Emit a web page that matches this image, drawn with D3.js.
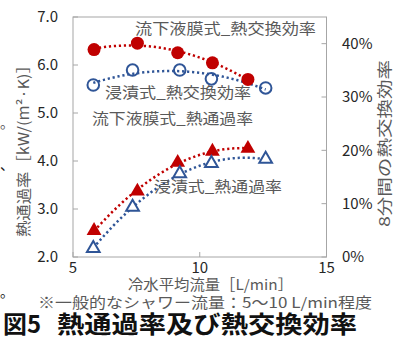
<!DOCTYPE html>
<html><head><meta charset="utf-8">
<script src="https://cdn.jsdelivr.net/npm/d3@7"></script>
<style>
html,body{margin:0;padding:0;background:#fff;}
svg{display:block;font-family:"Noto Sans CJK JP","Noto Sans",sans-serif;}
</style></head>
<body><svg id="c" width="393" height="338"></svg>
<script>
// Data
const redX = [5.83, 7.54, 9.13, 10.5, 11.9];
const blueX = [5.8, 7.35, 9.21, 10.46, 12.6];
const redEff = [0.389, 0.401, 0.383, 0.364, 0.333];     // 流下液膜式_熱交換効率 (right axis)
const blueEff = [0.3225, 0.3505, 0.3505, 0.334, 0.317]; // 浸漬式_熱交換効率 (right axis)
const redK = [2.55, 3.37, 3.97, 4.2, 4.26];            // 流下液膜式_熱通過率 (left axis)
const blueK = [2.18, 3.04, 3.74, 3.95, 4.04];           // 浸漬式_熱通過率 (left axis)
const xTicks = [5, 10, 15];
const yLeftTicks = [2.0, 3.0, 4.0, 5.0, 6.0, 7.0];
const yRightTicks = [0, 0.1, 0.2, 0.3, 0.4];

const svg = d3.select("#c");
const L = 73, R = 326.5, T = 17, B = 257;
const x = d3.scaleLinear().domain([5, 15]).range([L, R]);
const yL = d3.scaleLinear().domain([2, 7]).range([B, T]);
const yR = d3.scaleLinear().domain([0, 0.45]).range([B, T]);

const RED = "#C00000", BLUE = "#2F5597", GRAY = "#595959", AX = "#a6a6a6";

// plot frame
svg.append("rect").attr("x", L).attr("y", T).attr("width", R - L).attr("height", B - T)
  .attr("fill", "none").attr("stroke", AX).attr("stroke-width", 1);

// ticks (inward)
yLeftTicks.forEach(v => svg.append("line").attr("x1", L).attr("x2", L + 5).attr("y1", yL(v)).attr("y2", yL(v)).attr("stroke", AX));
yRightTicks.forEach(v => svg.append("line").attr("x1", R - 5).attr("x2", R).attr("y1", yR(v)).attr("y2", yR(v)).attr("stroke", AX));
xTicks.forEach(v => svg.append("line").attr("x1", x(v)).attr("x2", x(v)).attr("y1", B - 5).attr("y2", B).attr("stroke", AX));

// tick labels
const tf = 15;
yLeftTicks.forEach(v => svg.append("text").attr("x", 58).attr("y", yL(v)).attr("dy", "0.35em")
  .attr("text-anchor", "end").attr("font-size", tf).attr("fill", "#262626").text(v.toFixed(1)));
yRightTicks.forEach(v => svg.append("text").attr("x", 342).attr("y", yR(v)).attr("dy", "0.35em")
  .attr("text-anchor", "start").attr("font-size", tf).attr("fill", "#262626").text(d3.format(".0%")(v)));
xTicks.forEach(v => svg.append("text").attr("x", x(v)).attr("y", 268).attr("dy", "0.35em")
  .attr("text-anchor", "middle").attr("font-size", tf).attr("fill", "#262626").text(v));

// quadratic trendline
function quadFit(xs, ys) {
  let s = [0,0,0,0,0], t = [0,0,0];
  xs.forEach((xv, i) => {
    for (let k = 0; k < 5; k++) s[k] += Math.pow(xv, k);
    for (let k = 0; k < 3; k++) t[k] += ys[i] * Math.pow(xv, k);
  });
  const M = [[s[0], s[1], s[2], t[0]], [s[1], s[2], s[3], t[1]], [s[2], s[3], s[4], t[2]]];
  for (let i = 0; i < 3; i++) {
    for (let j = i + 1; j < 3; j++) {
      const f = M[j][i] / M[i][i];
      for (let k = i; k < 4; k++) M[j][k] -= f * M[i][k];
    }
  }
  const c = [0,0,0];
  for (let i = 2; i >= 0; i--) {
    let v = M[i][3];
    for (let k = i + 1; k < 3; k++) v -= M[i][k] * c[k];
    c[i] = v / M[i][i];
  }
  return xv => c[0] + c[1] * xv + c[2] * xv * xv;
}
function trend(xs, ys, ys2, color) {
  const f = quadFit(xs, ys);
  const pts = d3.range(0, 61).map(i => {
    const xv = xs[0] + (xs[xs.length - 1] - xs[0]) * i / 60;
    return [x(xv), ys2(f(xv))];
  });
  svg.append("path").attr("d", d3.line()(pts)).attr("fill", "none")
    .attr("stroke", color).attr("stroke-width", 2.5).attr("stroke-dasharray", "2.2,2.8");
}
trend(redX, redEff, yR, RED);
trend(blueX, blueEff, yR, BLUE);
trend(redX, redK, yL, RED);
trend(blueX, blueK, yL, BLUE);

// markers
const tri = d3.symbol().type(d3.symbolTriangle);
redEff.forEach((v, i) => svg.append("circle").attr("cx", x(redX[i])).attr("cy", yR(v)).attr("r", 6.5).attr("fill", RED));
blueEff.forEach((v, i) => svg.append("circle").attr("cx", x(blueX[i])).attr("cy", yR(v)).attr("r", 5.8)
  .attr("fill", "none").attr("stroke", BLUE).attr("stroke-width", 2));
redK.forEach((v, i) => svg.append("path").attr("d", tri.size(95)())
  .attr("transform", `translate(${x(redX[i])},${yL(v)})`).attr("fill", RED));
blueK.forEach((v, i) => svg.append("path").attr("d", tri.size(70)())
  .attr("transform", `translate(${x(blueX[i])},${yL(v)})`).attr("fill", "#fff").attr("stroke", BLUE).attr("stroke-width", 2));

// series labels
const lf = 15;
function lab(t, xx, yy, w) {
  svg.append("text").attr("x", xx).attr("y", yy).attr("dy", "0.35em").attr("font-size", lf)
    .attr("fill", GRAY).attr("textLength", w).attr("lengthAdjust", "spacingAndGlyphs").text(t);
}
lab("流下液膜式_熱交換効率", 135, 29, 181);
lab("浸漬式_熱交換効率", 105, 93, 146);
lab("流下液膜式_熱通過率", 92, 119, 161);
lab("浸漬式_熱通過率", 154, 187, 128);

// axis titles
svg.append("text").attr("x", 128).attr("y", 285).attr("dy", "0.35em").attr("font-size", 14.5)
  .attr("fill", GRAY).attr("textLength", 165).attr("lengthAdjust", "spacingAndGlyphs").text("冷水平均流量［L/min］");
svg.append("text").attr("transform", "translate(24,237) rotate(-90)").attr("dy", "0.35em")
  .attr("font-size", 15).attr("fill", GRAY).attr("textLength", 180).attr("lengthAdjust", "spacingAndGlyphs")
  .text("熱通過率［kW/(m²·K)］");
svg.append("text").attr("transform", "translate(385,227) rotate(-90)").attr("dy", "0.35em")
  .attr("font-size", 15).attr("fill", GRAY).attr("textLength", 167).attr("lengthAdjust", "spacingAndGlyphs")
  .text("8分間の熱交換効率");

// stray fragments at left edge
svg.append("text").attr("x", 0).attr("y", 123).attr("dy", "0.35em").attr("font-size", 14).attr("fill", GRAY).text("。");
svg.append("text").attr("x", 0).attr("y", 165).attr("dy", "0.35em").attr("font-size", 14).attr("fill", "#222").text("、");
svg.append("text").attr("x", 0).attr("y", 292).attr("dy", "0.35em").attr("font-size", 14).attr("fill", "#222").text("。");

// note & title
svg.append("text").attr("x", 38).attr("y", 303).attr("dy", "0.35em").attr("font-size", 14.5)
  .attr("fill", GRAY).attr("textLength", 334).attr("lengthAdjust", "spacingAndGlyphs").text("※一般的なシャワー流量：5～10 L/min程度");
svg.append("text").attr("x", 3).attr("y", 325).attr("dy", "0.35em").attr("font-size", 24).attr("font-weight", "bold")
  .attr("fill", "#111").attr("textLength", 38).attr("lengthAdjust", "spacingAndGlyphs").text("図5");
svg.append("text").attr("x", 57).attr("y", 325).attr("dy", "0.35em").attr("font-size", 24).attr("font-weight", "bold")
  .attr("fill", "#111").attr("textLength", 300).attr("lengthAdjust", "spacingAndGlyphs").text("熱通過率及び熱交換効率");
</script></body></html>
